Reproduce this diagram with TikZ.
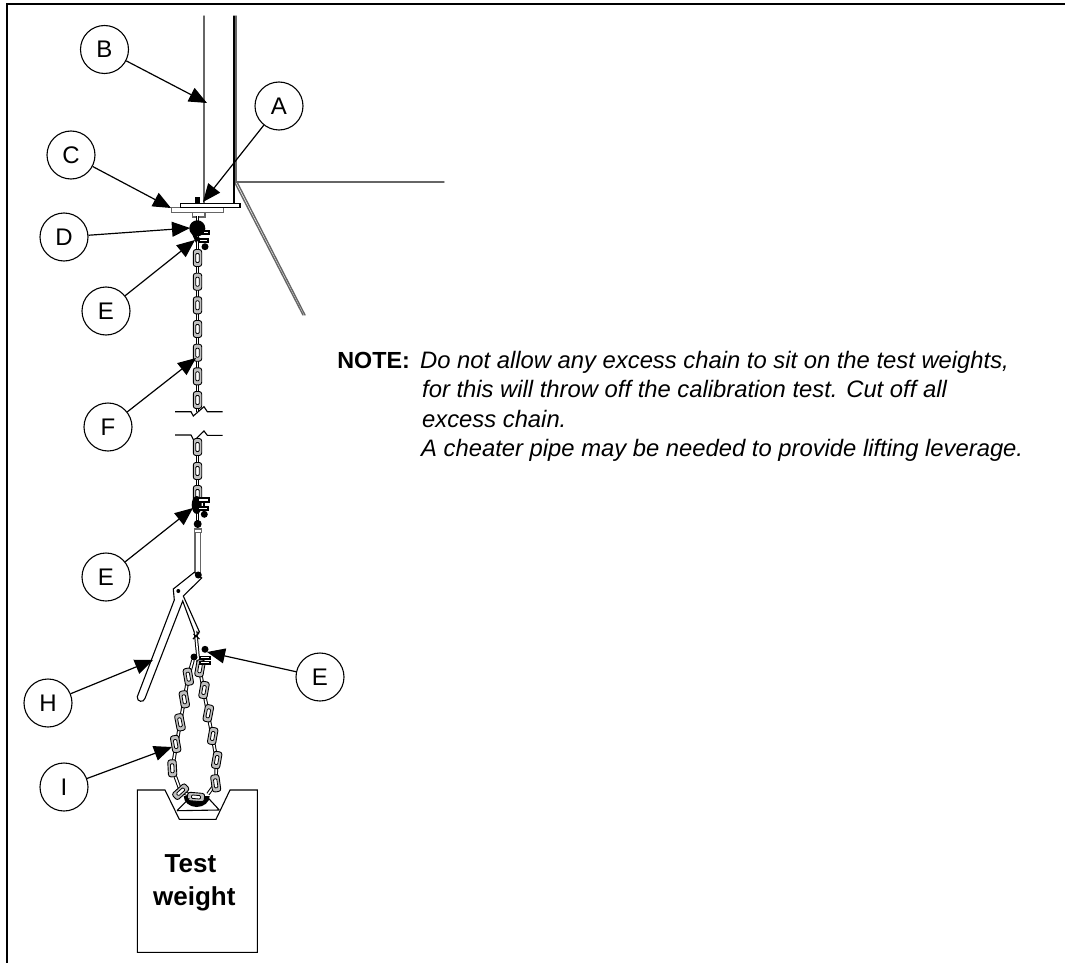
\documentclass[tikz,border=0pt]{standalone}
\usepackage{fontspec}
\setmainfont{Liberation Sans}
\usepackage{tkz-euclide}
\usetikzlibrary{arrows.meta}
\tikzset{
    callout/.style={circle, draw, line width=1.1pt, fill=white, minimum size=48pt, inner sep=0pt, font=\fontsize{24}{24}\selectfont},
    leader/.style={line width=1.2pt, -{Triangle[length=18pt,width=15pt]}},
    sheet/.style={line width=1.4pt, black!60},
    fine/.style={line width=1.1pt, black},
    chainbar/.style={draw=black, double=white, double distance=1.6pt, line width=1pt},
    notetext/.style={anchor=base west, inner sep=0pt, font=\fontsize{23.8}{24}\selectfont\itshape},
    chainlink/.pic={
        \draw[line width=.9pt, fill=black!25, rounded corners=2.5pt] (-4.2,-8.5) rectangle (4.2,8.5);
        \draw[line width=.8pt, fill=white, rounded corners=1pt] (-1.7,-4.5) rectangle (1.7,4.5);
    }
}
\begin{document}
\begin{tikzpicture}[x=1pt, y=-1pt]
    \useasboundingbox (0,0) rectangle (1065,963);
    \tkzDefPoints{204/16/W1, 204/203/W2, 234/16/R1, 234/203/R2, 236/16/S1, 236/182/S2}
    \tkzDefPoints{235/182/G1, 444/182/G2, 235/183/K1, 303/315/K2, 237/182/K3, 305/315/K4}
    \tkzDefPoints{207/103/tB, 203/202/tA, 171/208/tC, 190/228/tD, 195/240/tE1}
    \tkzDefPoints{196/358/tF, 193/508/tE2, 153/660/tH, 207/652/tE3, 172/747/tI}

    % frame
    \draw[line width=2pt] (6.5,963) -- (6.5,4) -- (1065,4);

    % bracket and wall
    \tkzDrawSegments[sheet](W1,W2 S1,S2 G1,G2 K1,K2 K3,K4)
    \tkzDrawSegments[fine](R1,R2)

    % plates
    \draw[sheet, fill=white] (171.7,207.7) rectangle (223.3,212.3);
    \draw[fine, fill=white] (180.3,203.3) rectangle (240,207.7);
    \fill (195,197) rectangle (200,203.3);
    \draw[sheet, fill=white] (192.7,212.3) rectangle (205,217);
    \draw[chainbar] (197.5,216) -- (197.5,222);

    % upper chain
    \draw[chainbar] (197.5,236) -- (197.5,412);
    \foreach \y in {258,281.7,305.3,329,352.7,376.3,400}
        \pic at (197.5,\y) {chainlink};
    \fill (197.3,228.3) circle (8);
    \fill (192,234) -- (200,238) -- (196,243) -- cycle;
    \draw[fine, fill=white] (203,231) rectangle (209,234);
    \draw[fine, fill=white] (199,239) rectangle (208,242);
    \fill (205,246.7) circle (3.5);

    % break
    \fill[white] (175,412) rectangle (223,435);
    \draw[fine] (175,411.7) -- (191,411.7) -- (193.3,416) -- (204,406.7) -- (207.3,411.7) -- (222.7,411.7);
    \draw[fine] (175,435) -- (191,435) -- (194,440.7) -- (204,431) -- (207.3,435.3) -- (222.7,435.3);

    % lower chain
    \draw[chainbar] (197.5,441) -- (197.5,522);
    \foreach \y in {447,471,494}
        \pic at (197.5,\y) {chainlink};
    \fill (196.7,505) ellipse (5 and 9);
    \draw[fine, fill=white] (198,498) rectangle (209,502);
    \draw[fine, fill=white] (198,507) rectangle (208,510);
    \draw[fine] (204,502) -- (204,507);
    \fill (204.3,514.3) circle (3.5);
    \fill (197.7,524) circle (4);
    \draw[sheet, fill=white] (194.3,529) rectangle (201.3,532.3);
    \draw[sheet, fill=white] (195,532.3) rectangle (200.3,573);

    % cheater pipe
    \draw[fine, fill=white] (194.3,572.3) -- (173.3,589) -- (174.3,600) -- (137.3,696.7)
        .. controls (136.5,702) and (144,703) .. (145,698.3) -- (182.7,601) -- (195,634) -- (199.5,632) -- (183.3,596) -- (201.7,578) -- cycle;
    \fill (198.3,575) circle (3.5);
    \fill (178.3,591) circle (2);

    % sling
    \draw[chainbar] (195.5,631) -- (198,657);
    \draw[fine] (193,639) -- (199,633) (193.5,634) -- (199.5,639);
    \draw[chainbar] (193,660) -- (188.3,676.7) -- (172.3,768.3) -- (181,792) -- (196,797);
    \draw[chainbar] (198,660) -- (216.7,760) -- (215.7,783.3) -- (208,794);
    \fill (183.7,796) arc (180:360:13 and -11) -- cycle;
    \foreach \x/\y/\r in {188.3/676.7/10, 184.3/699.3/10, 180/722.3/11, 175.7/744/10, 172.3/768.3/3, 180.7/791.7/-48, 196/797/85}
        \pic[rotate=\r] at (\x,\y) {chainlink};
    \foreach \x/\y/\r in {200/668.3/-10, 204/690/-10, 208.3/713.3/-11, 212.7/736/-10, 216.7/760/-10, 215.7/783.3/8}
        \pic[rotate=\r] at (\x,\y) {chainlink};
    \fill (194,657) circle (3.5);
    \fill (205,649.3) circle (3.5);
    \draw[fine, fill=white] (200,656.7) rectangle (210,659);
    \draw[fine, fill=white] (200,661.7) rectangle (210,664);

    % test weight
    \draw[fine] (137.3,790) -- (165,790) -- (179.3,819.3) -- (216,819.3) -- (230,790) -- (257.3,790) -- (257.3,952.3) -- (137.3,952.3) -- cycle;
    \draw[fine] (177,810.7) -- (189.3,798.3) (207,796.7) -- (219.3,810) (177,810.7) -- (219.3,810);
    \node[inner sep=0pt, anchor=base, font=\fontsize{26}{26}\selectfont\bfseries] (test) at (190.5,872.7) {Test};
    \node[inner sep=0pt, anchor=base, font=\fontsize{26}{26}\selectfont\bfseries] (weight) at (194.3,905) {weight};

    % note
    \node[inner sep=0pt, anchor=base east, font=\fontsize{23.3}{24}\selectfont\bfseries] (note) at (410,368) {NOTE:};
    \node[notetext] (line1) at (420,368) {Do not allow any excess chain to sit on the test weights,};
    \node[notetext] (line2) at (422,397.5) {for this will throw off the calibration test. Cut off all};
    \node[notetext] (line3) at (422,427) {excess chain.};
    \node[notetext] (line4) at (421,456.5) {A cheater pipe may be needed to provide lifting leverage.};

    % callouts
    \node[callout] (cB) at (104.5,49.5) {B};
    \node[callout] (cA) at (279,106) {A};
    \node[callout] (cC) at (71,155) {C};
    \node[callout] (cD) at (64,237) {D};
    \node[callout] (cE1) at (106,311) {E};
    \node[callout] (cF) at (108,427) {F};
    \node[callout] (cE2) at (106,577) {E};
    \node[callout] (cH) at (48,703) {H};
    \node[callout] (cE3) at (320,677) {E};
    \node[callout] (cI) at (64,787) {I};
    \draw[leader] (cB) -- (tB);
    \draw[leader] (cA) -- (tA);
    \draw[leader] (cC) -- (tC);
    \draw[leader] (cD) -- (tD);
    \draw[leader] (cE1) -- (tE1);
    \draw[leader] (cF) -- (tF);
    \draw[leader] (cE2) -- (tE2);
    \draw[leader] (cH) -- (tH);
    \draw[leader] (cE3) -- (tE3);
    \draw[leader] (cI) -- (tI);
\end{tikzpicture}
\end{document}
